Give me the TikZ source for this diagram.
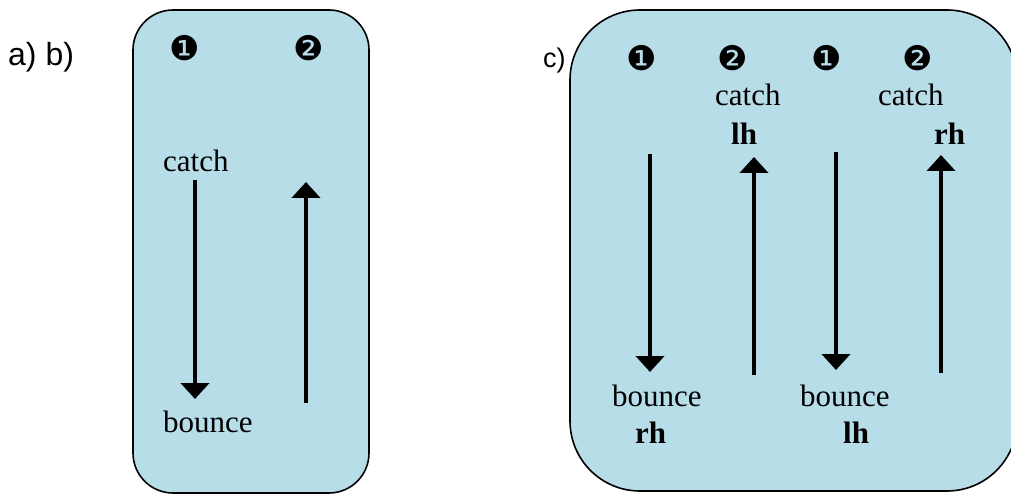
\documentclass[tikz,border=0pt]{standalone}
\usepackage{fontspec}
\setmainfont{Liberation Serif}
\newfontfamily\labelfont{Liberation Sans}
\newfontfamily\dingfont{DejaVu Sans}
\usetikzlibrary{arrows.meta}
\definecolor{boxblue}{RGB}{183,221,232}
\begin{document}
\begin{tikzpicture}[x=1pt,y=-1pt,
  panel/.style={draw=black,line width=1.6pt,fill=boxblue},
  word/.style={inner sep=0pt,anchor=base west,font=\fontsize{31}{31}\selectfont},
  hand/.style={inner sep=0pt,anchor=base west,font=\fontsize{31}{31}\selectfont\bfseries},
  tag/.style={inner sep=0pt,anchor=base west,font=\labelfont\fontsize{32}{32}\selectfont},
  num/.style={inner sep=0pt,anchor=center,font=\dingfont\fontsize{34}{34}\selectfont},
  move/.style={line width=4pt,-{Triangle[width=28pt,length=16pt]}}]
\useasboundingbox (0,0) rectangle (1011,494);
\clip (0,0) rectangle (1011,494);
% panels
\path[panel,rounded corners=40pt] (133,10) rectangle (369,493);
\path[panel,rounded corners=70pt] (570,10) rectangle (1017,491);
% labels
\node[tag] (ab) at (8,66) {a) b)};
\node[tag,font=\labelfont\fontsize{27}{27}\selectfont] (c) at (543,68) {c)};
% numbers panel 1
\node[num] (n1) at (185,48) {❶};
\node[num] (n2) at (309,48) {❷};
% numbers panel 2
\node[num] (m1) at (642,58) {❶};
\node[num] (m2) at (733,58) {❷};
\node[num] (m3) at (827,58) {❶};
\node[num] (m4) at (918,58) {❷};
% panel 1 texts
\node[word] (catchA) at (163,172) {catch};
\node[word] (bounceA) at (163,432) {bounce};
% panel 2 texts
\node[word] (catchB) at (715,106) {catch};
\node[hand] (lhB) at (731,145) {lh};
\node[word] (catchC) at (878,106) {catch};
\node[hand] (rhC) at (934,145) {rh};
\node[word] (bounceB) at (612,406) {bounce};
\node[hand] (rhB) at (635,443) {rh};
\node[word] (bounceC) at (800,406) {bounce};
\node[hand] (lhC) at (843,443) {lh};
% arrow ends
\coordinate (a1s) at (195,180);
\coordinate (a1e) at (195,399);
\coordinate (a2s) at (306,403);
\coordinate (a2e) at (306,182);
\coordinate (b1s) at (650,154);
\coordinate (b1e) at (650,372);
\coordinate (b2s) at (754,375);
\coordinate (b2e) at (754,157);
\coordinate (b3s) at (836,152);
\coordinate (b3e) at (836,370);
\coordinate (b4s) at (941,373);
\coordinate (b4e) at (941,155);
\draw[move] (a1s) -- (a1e);
\draw[move] (a2s) -- (a2e);
\draw[move] (b1s) -- (b1e);
\draw[move] (b2s) -- (b2e);
\draw[move] (b3s) -- (b3e);
\draw[move] (b4s) -- (b4e);
\end{tikzpicture}
\end{document}
